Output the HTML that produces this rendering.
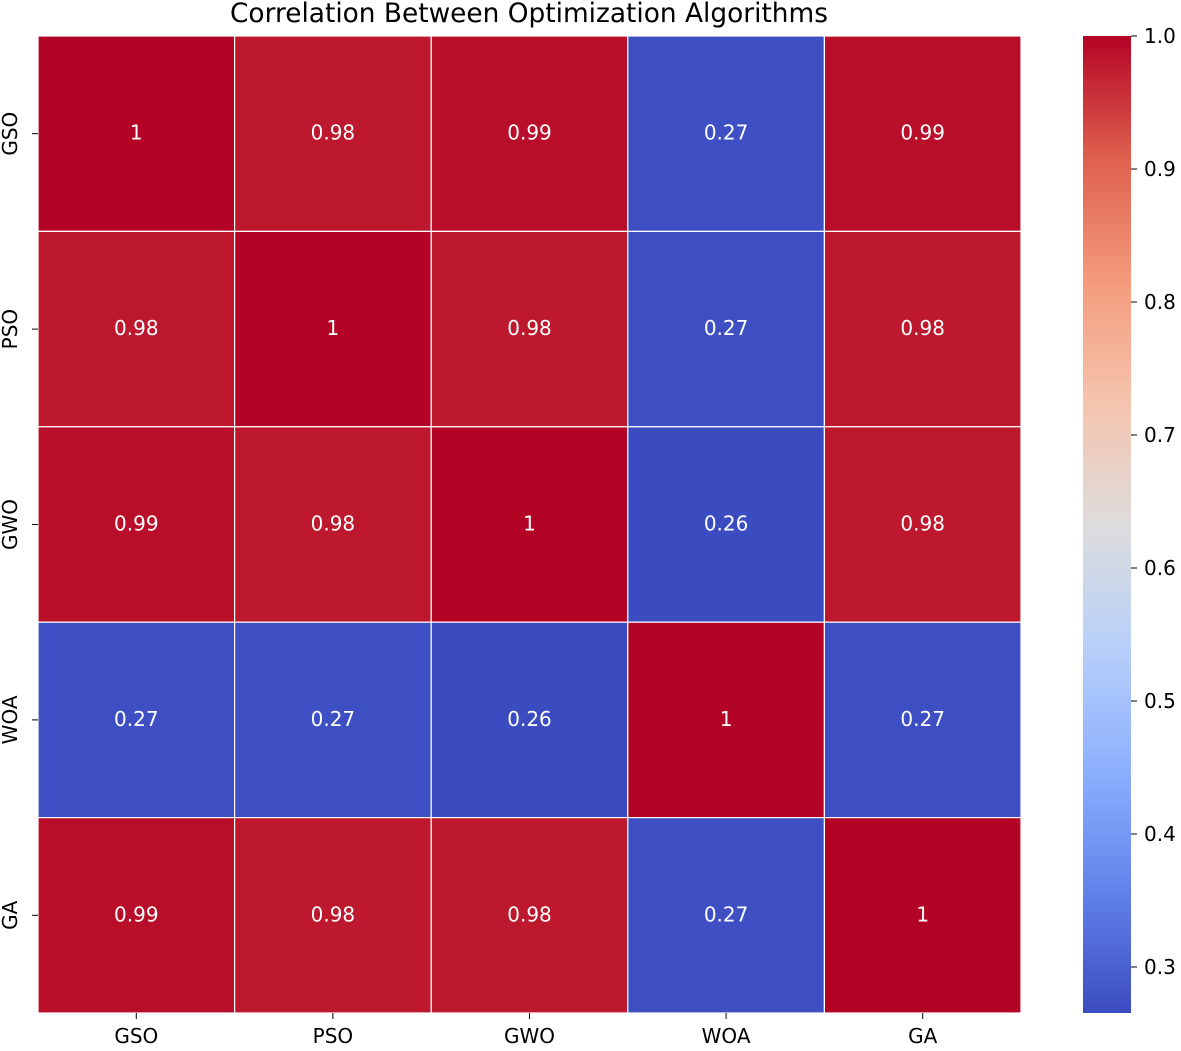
<!DOCTYPE html>
<html><head><meta charset="utf-8"><style>
body{margin:0;background:#fff;font-family:"Liberation Sans","DejaVu Sans",sans-serif;}
svg text{font-family:"DejaVu Sans","Liberation Sans",sans-serif;}
</style></head><body>
<svg id="chart" width="1181" height="1046" xmlns="http://www.w3.org/2000/svg">
<defs><linearGradient id="cb" x1="0" y1="1" x2="0" y2="0">
<stop offset="0" stop-color="rgb(59,76,192)"/><stop offset="0.125" stop-color="rgb(98,130,234)"/>
<stop offset="0.25" stop-color="rgb(141,176,254)"/><stop offset="0.375" stop-color="rgb(184,208,249)"/>
<stop offset="0.5" stop-color="rgb(221,220,220)"/><stop offset="0.625" stop-color="rgb(245,196,173)"/>
<stop offset="0.75" stop-color="rgb(244,154,123)"/><stop offset="0.875" stop-color="rgb(222,96,77)"/>
<stop offset="1" stop-color="rgb(180,4,38)"/></linearGradient></defs>
<text x="529" y="22" text-anchor="middle" font-size="26.4" fill="#000">Correlation Between Optimization Algorithms</text>
<g id="cells"></g>
<rect x="1083" y="36" width="48" height="977" fill="url(#cb)"/>
<g id="cbticks"></g>
</svg>
<script>
const labels=["GSO","PSO","GWO","WOA","GA"];
const row0=[1,0.98,0.99,0.27,0.99];
const row1=[0.98,1,0.98,0.27,0.98];
const row2=[0.99,0.98,1,0.26,0.98];
const row3=[0.27,0.27,0.26,1,0.27];
const row4=[0.99,0.98,0.98,0.27,1];
const cbTicks=[0.3,0.4,0.5,0.6,0.7,0.8,0.9,1.0];
const rows=[row0,row1,row2,row3,row4];
const vmin=0.2654,vmax=1.0;
const X0=38,X1=1021,Y0=36,Y1=1013;
const cw=(X1-X0)/labels.length,ch=(Y1-Y0)/labels.length;
const stops=[[59,76,192],[98,130,234],[141,176,254],[184,208,249],[221,220,220],[245,196,173],[244,154,123],[222,96,77],[180,4,38]];
function cmap(v){let t=Math.max(0,Math.min(1,(v-vmin)/(vmax-vmin)))*8;let i=Math.min(7,Math.floor(t));let f=t-i;
const a=stops[i],b=stops[i+1];return `rgb(${a.map((c,k)=>Math.round(c+(b[k]-c)*f)).join(',')})`;}
const NS="http://www.w3.org/2000/svg";
const svg=document.getElementById('chart'),g=document.getElementById('cells'),cg=document.getElementById('cbticks');
function mk(tag,attrs,parent){const e=document.createElementNS(NS,tag);for(const k in attrs)e.setAttribute(k,attrs[k]);parent.appendChild(e);return e;}
rows.forEach((r,i)=>r.forEach((v,j)=>{
 const rc=mk('rect',{x:X0+j*cw,y:Y0+i*ch,width:cw,height:ch,fill:cmap(v),stroke:'#fff','stroke-width':1.2},g);
 
 
 const t=mk('text',{x:X0+(j+0.5)*cw,y:Y0+(i+0.5)*ch+6,'text-anchor':'middle','font-size':20,fill:'#fff'},g);
 t.textContent=String(v);
 
 
}));
labels.forEach((l,k)=>{
 const xc=X0+(k+0.5)*cw;
 mk('line',{x1:xc,x2:xc,y1:Y1,y2:Y1+6,stroke:'#000'},svg);
 const t=mk('text',{x:xc,y:Y1+30,'text-anchor':'middle','font-size':20,fill:'#000'},svg);
 t.textContent=l;
 
 
 const yc=Y0+(k+0.5)*ch;
 mk('line',{x1:X0-6,x2:X0,y1:yc,y2:yc,stroke:'#000'},svg);
 const ty=mk('text',{x:0,y:0,'text-anchor':'middle','font-size':20,fill:'#000',transform:`translate(17,${yc}) rotate(-90)`},svg);
 ty.textContent=l;
 
 
});
cbTicks.forEach(v=>{
 const y=Y1-(v-vmin)/(vmax-vmin)*(Y1-Y0);
 mk('line',{x1:1131,x2:1137,y1:y,y2:y,stroke:'#000'},cg);
 const t=mk('text',{x:1144,y:y+7,'font-size':20,fill:'#000'},cg);
 t.textContent=v.toFixed(1);
 
 
});
</script>
</body></html>
